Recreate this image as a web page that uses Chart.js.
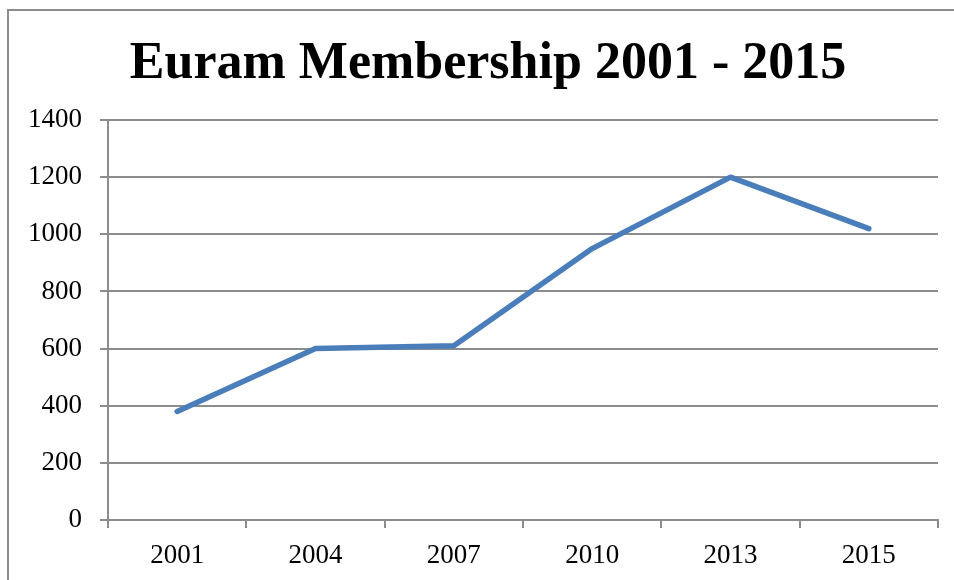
<!DOCTYPE html>
<html>
<head>
<meta charset="utf-8">
<script src="https://cdn.jsdelivr.net/npm/chart.js@4"></script>
<style>
    body { margin: 0; background: #fff; }
    #wrap { position: relative; width: 954px; height: 580px; overflow: hidden; }
    #frame {
        position: absolute; left: 7px; top: 9px; width: 1000px; height: 600px;
        border-left: 2px solid #8c8c8c; border-top: 2px solid #8c8c8c;
    }
    canvas { position: absolute; left: 0; top: 0; }
</style>
</head>
<body>
<div id="wrap">
    <div id="frame"></div>
    <canvas id="membershipChart" width="954" height="580"></canvas>
</div>
<script>
// 데이터
const years = ['2001', '2004', '2007', '2010', '2013', '2015'];
const members = [380, 600, 610, 950, 1200, 1020];
const yTicks = [0, 200, 400, 600, 800, 1000, 1200, 1400];
const chartTitle = 'Euram Membership 2001 - 2015';

const gridGray = '#8c8c8c';
const serif = "'Liberation Serif', 'DejaVu Serif', serif";

// 제목은 원본처럼 약간 오른쪽에 치우쳐 그린다
const titlePlugin = {
    id: 'offsetTitle',
    afterDraw(chart) {
        const c = chart.ctx;
        c.save();
        c.font = `bold 52px ${serif}`;
        c.fillStyle = '#000';
        c.textAlign = 'center';
        c.textBaseline = 'alphabetic';
        c.fillText(chartTitle, 488, 78);
        c.restore();
    },
};

const ctx = document.getElementById('membershipChart').getContext('2d');
new Chart(ctx, {
    type: 'line',
    data: {
        labels: years,
        datasets: [{
            label: 'Membership',
            data: members,
            borderColor: '#4a7ebb',
            borderWidth: 5.5,
            pointRadius: 0,
            tension: 0,
            borderCapStyle: 'round',
            borderJoinStyle: 'round',
        }],
    },
    plugins: [titlePlugin],
    options: {
        responsive: false,
        animation: false,
        layout: { padding: { left: 0, right: 16, top: 120, bottom: 0 } },
        plugins: {
            legend: { display: false },
            tooltip: { enabled: false },
            title: { display: false },
        },
        scales: {
            x: {
                offset: true,
                grid: {
                    offset: true,
                    drawOnChartArea: false,
                    drawTicks: true,
                    tickLength: 8,
                    color: gridGray,
                    lineWidth: 2,
                },
                border: { color: gridGray, width: 2 },
                ticks: {
                    color: '#000',
                    font: { family: serif, size: 27 },
                    padding: 12,
                    maxRotation: 0,
                },
                afterFit: scale => { scale.height = 60; },
            },
            y: {
                min: 0,
                max: 1400,
                afterBuildTicks: scale => {
                    scale.ticks = yTicks.map(v => ({ value: v }));
                },
                grid: {
                    color: gridGray,
                    lineWidth: 2,
                    tickLength: 8,
                },
                border: { color: gridGray, width: 2 },
                ticks: {
                    color: '#000',
                    font: { family: serif, size: 27 },
                    padding: 18,
                    callback: v => String(v),
                },
                afterFit: scale => { scale.width = 108; },
            },
        },
    },
});
</script>
</body>
</html>
